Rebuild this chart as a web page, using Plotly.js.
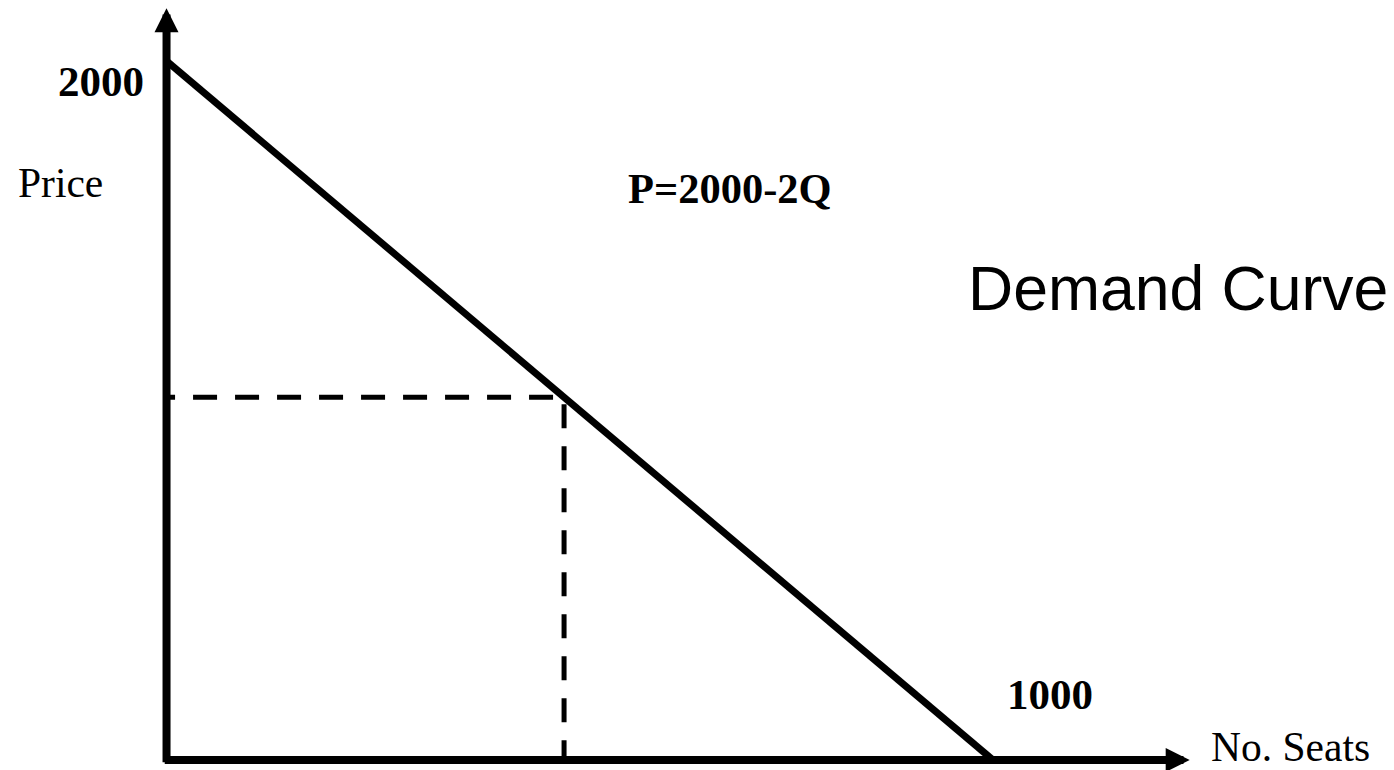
<!DOCTYPE html>
<html>
<head>
<meta charset="utf-8">
<script src="https://cdn.plot.ly/plotly-3.0.1.min.js"></script>
<style>html,body{margin:0;padding:0;background:#fff;}#chart{width:1394px;height:770px;}</style>
</head>
<body>
<div id="chart"></div>
<script>
// Demand curve P = 2000 - 2Q
const demandQ = [0, 1000];
const demandP = [2000, 0];
// Chosen point
const pointQ = 481;
const pointP = 1038;
// Axis extents (data units)
const axisQ = [-4, 1238];
const axisP = [-11, 2151];
// Labels
const priceTick = "2000";
const qtyTick = "1000";
const xLabel = "No. Seats";
const yLabel = "Price";
const equation = "P=2000-2Q";
const chartTitle = "Demand Curve";

const serif = "Liberation Serif, Times New Roman, serif";
const sans = "Liberation Sans, Arial, sans-serif";

const traces = [
  {x: demandQ, y: demandP, mode: 'lines', line: {color: '#000', width: 7}, hoverinfo: 'skip'},
  {x: [pointQ, 0], y: [pointP, pointP], mode: 'lines', line: {color: '#000', width: 5, dash: '0px,11px,24px,7px'}, hoverinfo: 'skip'},
  {x: [pointQ, pointQ], y: [pointP, 0], mode: 'lines', line: {color: '#000', width: 5, dash: '0px,7px,24px,11px'}, hoverinfo: 'skip'}
];

function txt(text, x, y, anchor, font) {
  return {text: text, x: x, y: y, xref: 'x', yref: 'y', xanchor: anchor, yanchor: 'middle',
          showarrow: false, borderpad: 0, font: font};
}
function arrow(x0, y0, x1, y1) {
  return {text: '', x: x1, y: y1, ax: x0, ay: y0, xref: 'x', yref: 'y', axref: 'x', ayref: 'y',
          showarrow: true, arrowhead: 2, arrowsize: 0.6, arrowwidth: 8, arrowcolor: '#000', standoff: 0, startstandoff: 0};
}

const layout = {
  width: 1394, height: 770,
  margin: {l: 0, r: 0, t: 0, b: 0},
  paper_bgcolor: '#fff', plot_bgcolor: '#fff',
  showlegend: false,
  xaxis: {range: [-201.5, 1485.2], visible: false, fixedrange: true},
  yaxis: {range: [-28.6, 2174.5], visible: false, fixedrange: true},
  annotations: [
    arrow(0, axisP[0], 0, axisP[1]),
    arrow(axisQ[0], 0, axisQ[1], 0),
    txt('<b>' + priceTick + '</b>', -26, 1941, 'right', {family: serif, size: 43, color: '#000'}),
    txt(yLabel, -181, 1651, 'left', {family: serif, size: 41.5, color: '#000'}),
    txt('<b>' + equation + '</b>', 557, 1634.6, 'left', {family: serif, size: 42.5, color: '#000'}),
    txt(chartTitle, 968, 1349.6, 'left', {family: sans, size: 62.5, color: '#000'}),
    txt('<b>' + qtyTick + '</b>', 1015.7, 187.4, 'left', {family: serif, size: 43, color: '#000'}),
    txt(xLabel, 1263, 36, 'left', {family: serif, size: 41.5, color: '#000'})
  ]
};

Plotly.newPlot('chart', traces, layout, {staticPlot: true, displayModeBar: false});
</script>
</body>
</html>
